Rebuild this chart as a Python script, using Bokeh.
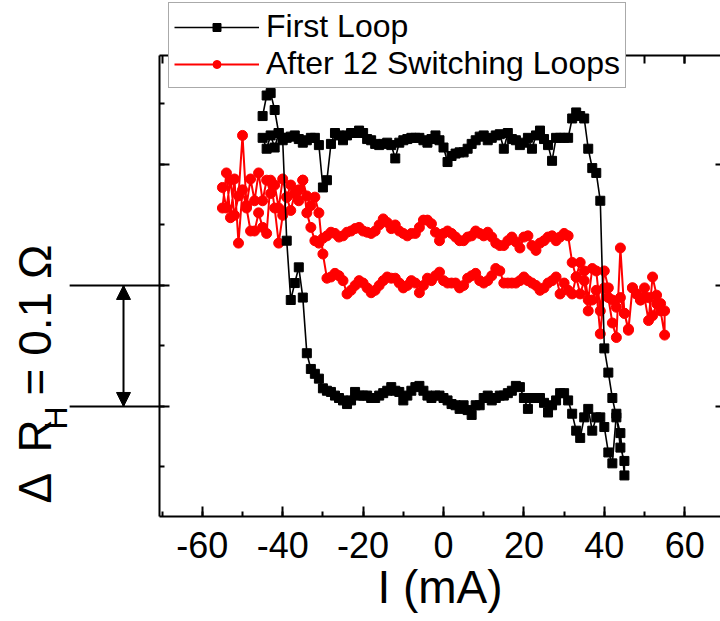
import math
from bokeh.plotting import figure
from bokeh.models import (LinearAxis, SingleIntervalTicker, Range1d, Legend, LegendItem,
                          Label, Whisker, NormalHead, ColumnDataSource, CustomJSTickFormatter)
from bokeh.embed import file_html
from bokeh.resources import INLINE

# ---------------- data (current in mA, Hall resistance offset in mOhm) ----------------
I_black = [-45, -44, -43, -42, -41, -40, -39, -38, -37, -36, -35, -34, -33, -32, -31, -30,
           -29, -28, -27, -26, -25, -24, -23, -22, -21, -20, -19, -18, -17, -16, -15, -14,
           -13, -12, -11, -10, -9, -8, -7, -6, -5, -4, -3, -2, -1, 0, 1, 2, 3, 4, 5, 6, 7,
           8, 9, 10, 11, 12, 13, 14, 15, 16, 17, 18, 19, 20, 21, 22, 23, 24, 25, 26, 27,
           28, 29, 30, 31, 32, 33, 34, 35, 36, 37, 38, 39, 40, 41, 42, 43, 44, 45]

R_first_up = [122, 113, 124, 114, 126, 122, 122, 123, 124, 121,
              118, 120, 122, 122, 116, 81, 87, 117, 126, 124,
              120, 124, 126, 126, 128, 126, 121, 120, 117, 116,
              117, 118, 116, 105, 118, 120, 121, 122, 122, 122,
              120, 118, 121, 124, 120, 114, 102, 107, 109, 110,
              110, 113, 117, 120, 123, 124, 120, 122, 124, 125,
              113, 126, 121, 120, 116, 118, 122, 113, 124, 128,
              121, 116, 103, 122, 122, 122, 122, 138, 143, 140,
              138, 113, 97, 93, 70, -52, -72, -93, -109, -122, -157]

# return sweep, from +45 down to -45
R_first_down = [-145, -134, -106, -147, -138, -117, -109, -109, -120, -102,
                -109, -126, -120, -106, -95, -89, -89, -95, -99, -105,
                -97, -93, -93, -93, -102, -93, -84, -83, -87, -89,
                -91, -91, -93, -95, -91, -93, -99, -99, -107, -103,
                -99, -102, -99, -98, -95, -93, -91, -91, -93, -91,
                -87, -83, -84, -87, -91, -95, -88, -87, -84, -87,
                -89, -91, -93, -93, -91, -91, -91, -88, -95, -98,
                -95, -93, -91, -88, -87, -85, -77, -73, -69, -56,
                -10, 15, 2, -12, 37, 120, 126, 145, 159, 157, 140]

I_red = [-55, -54, -53, -52, -51, -50, -49, -48, -47, -46, -45, -44, -43, -42, -41, -40,
         -39, -38, -37, -36, -35, -34, -33, -32, -31, -30, -29, -28, -27, -26, -25, -24,
         -23, -22, -21, -20, -19, -18, -17, -16, -15, -14, -13, -12, -11, -10, -9, -8,
         -7, -6, -5, -4, -3, -2, -1, 0, 1, 2, 3, 4, 5, 6, 7, 8, 9, 10, 11, 12, 13, 14, 15,
         16, 17, 18, 19, 20, 21, 22, 23, 24, 25, 26, 27, 28, 29, 30, 31, 32, 33, 34, 35,
         36, 37, 38, 39, 40, 41, 42, 43, 44, 45, 46, 47, 48, 49, 50, 51, 52, 53, 54, 55]

R_cycled_up = [81, 64, 87, 58, 74, 124, 66, 88, 70, 93,
               70, 87, 76, 83, 64, 88, 73, 83, 76, 79,
               87, 60, 48, 37, 35, 39, 41, 44, 43, 40,
               41, 44, 45, 47, 48, 45, 44, 43, 45, 50,
               55, 52, 47, 50, 45, 43, 41, 43, 43, 48,
               54, 54, 51, 44, 37, 43, 45, 43, 40, 37,
               37, 40, 41, 45, 43, 41, 44, 40, 35, 33,
               33, 37, 40, 36, 31, 40, 41, 33, 29, 35,
               37, 40, 41, 37, 40, 43, 41, 19, 7, 19,
               12, -12, 14, 12, -21, 12, -2, -12, -18, -10,
               -23, -37, -2, -7, -12, -10, -29, 7, -8, -15, -21]

# return sweep, from +55 down to -55
R_cycled_down = [-41, -21, -15, -25, -10, -2, -12, -7, -2, -36,
                 -23, 31, -43, -31, -10, -2, -40, -4, -12, -21,
                 4, -7, 7, -7, -4, 2, -7, 7, 4, 2,
                 -2, -4, 0, 2, 4, 7, 4, 2, 2, 2,
                 2, 12, 14, 8, 4, 2, 4, 10, 8, 6,
                 0, -2, 2, 2, 2, 4, 11, 8, 4, 6,
                 0, -6, 2, 4, 0, -2, 2, 6, 6, 7,
                 4, 0, -4, -6, -2, 2, 4, 0, -4, -7,
                 4, 8, 10, 7, 6, 26, 60, 73, 66, 74,
                 87, 70, 76, 62, 73, 58, 35, 64, 87, 43, 48,
                 60, 45, 45, 64, 79, 35, 88, 56, 93, 64]

series_names = ["First Loop", "After 12 Switching Loops"]
x_tick_values = [-60, -40, -20, 0, 20, 40, 60]
x_tick_labels = ["-60", "-40", "-20", "0", "20", "40", "60"]
scale_bar = [-100, 0]          # levels marked by the ΔR_H = 0.1 Ω bar (mOhm)

x_first = I_black + I_black[::-1]
y_first = R_first_up + R_first_down
x_cyc = I_red + I_red[::-1]
y_cyc = R_cycled_up + R_cycled_down

FONT = "Liberation Sans"
# plot box (data limits) and the wider view that also holds the outer texts
BX0, BX1, BY0, BY1 = -70.6, 70.2, -191.0, 190.0
VX0, VX1, VY0, VY1 = -110.2, 68.9, -277.7, 235.5

p = figure(width=720, height=621, output_backend="svg", toolbar_location=None,
           x_range=Range1d(VX0, VX1), y_range=Range1d(VY0, VY1),
           x_axis_location=None, y_axis_location=None,
           min_border_left=0, min_border_right=0, min_border_top=0, min_border_bottom=0)
p.outline_line_color = None
p.xgrid.visible = False
p.ygrid.visible = False

blank = CustomJSTickFormatter(code="return ''")


def make_axis(interval, loc, bounds, tick_in, minor_in, labels=False):
    ax = LinearAxis(ticker=SingleIntervalTicker(interval=interval, num_minor_ticks=2),
                    fixed_location=loc, bounds=bounds)
    ax.axis_line_color = "black"
    ax.axis_line_width = 2
    ax.major_tick_line_color = "black"
    ax.major_tick_line_width = 2
    ax.minor_tick_line_color = "black"
    ax.minor_tick_line_width = 2
    ax.major_tick_in = tick_in
    ax.major_tick_out = 0
    ax.minor_tick_in = minor_in
    ax.minor_tick_out = 0
    if not labels:
        ax.formatter = blank
        ax.major_label_standoff = 0
    return ax


xb = make_axis(20, BY0, (BX0, BX1), 10, 5, labels=True)
xb.major_label_overrides = dict(zip(x_tick_values, x_tick_labels))
xb.major_label_text_font = FONT
xb.major_label_text_font_size = "36px"
xb.major_label_text_color = "black"
xb.major_label_standoff = 15
xb.axis_label = "I (mA)"
xb.axis_label_text_font = FONT
xb.axis_label_text_font_size = "46px"
xb.axis_label_text_font_style = "normal"
xb.axis_label_text_color = "black"
xb.axis_label_standoff = 0
p.add_layout(xb, "below")

xt = make_axis(20, BY1, (BX0, BX1), 8, 8)
p.add_layout(xt, "above")

yl = make_axis(100, BX0, (BY0, BY1), 10, 5)
p.add_layout(yl, "left")

yr = make_axis(100, BX1, (BY0, BY1), 10, 0)
p.add_layout(yr, "right")

# data (red first, black drawn on top)
rl = p.line(x_cyc, y_cyc, line_color="red", line_width=2)
rs = p.scatter(x_cyc, y_cyc, marker="circle", size=10, fill_color="red", line_color="red")
bl = p.line(x_first, y_first, line_color="black", line_width=1.6)
bs = p.scatter(x_first, y_first, marker="square", size=9, fill_color="black", line_color="black")

legend = Legend(items=[LegendItem(label=series_names[0], renderers=[bl, bs]),
                       LegendItem(label=series_names[1], renderers=[rl, rs])],
                location=(168, 533), orientation="vertical")
legend.label_text_font = FONT
legend.label_text_font_size = "32px"
legend.label_text_color = "black"
legend.glyph_width = 85
legend.glyph_height = 20
legend.label_standoff = 7
legend.padding = 5
legend.spacing = 0
legend.margin = 0
legend.border_line_color = "#555555"
legend.border_line_width = 1.5
legend.background_fill_color = "white"
legend.background_fill_alpha = 1
p.add_layout(legend, "center")

# scale bar for ΔR_H = 0.1 Ω, left of the plot box
bar_src = ColumnDataSource(dict(base=scale_bar, lower=[-93.0, -93.0], upper=[BX0, BX0]))
p.add_layout(Whisker(source=bar_src, base="base", lower="lower", upper="upper",
                     dimension="width", lower_head=None, upper_head=None,
                     line_width=2, line_color="black"))
arr_src = ColumnDataSource(dict(base=[-79.6], lower=[scale_bar[0]], upper=[scale_bar[1]]))
p.add_layout(Whisker(source=arr_src, base="base", lower="lower", upper="upper",
                     dimension="height", line_width=2, line_color="black",
                     lower_head=NormalHead(size=14, fill_color="black", line_color="black"),
                     upper_head=NormalHead(size=14, fill_color="black", line_color="black")))

# rotated y label  ΔR_H = 0.1 Ω
lab_kw = dict(x_units="data", y_units="data", angle=math.pi / 2, text_align="left",
              text_baseline="alphabetic", text_font=FONT, text_color="black")
p.add_layout(Label(x=-101.7, y=-180.2, text="Δ", text_font_size="46px", **lab_kw))
p.add_layout(Label(x=-101.7, y=-138.0, text="R", text_font_size="46px", **lab_kw))
p.add_layout(Label(x=-96.5, y=-119.0, text="H", text_font_size="32px", **lab_kw))
p.add_layout(Label(x=-101.7, y=-90.9, text=" = 0.1 Ω", text_font_size="46px", **lab_kw))

open("out.html", "w").write(file_html(p, INLINE))
